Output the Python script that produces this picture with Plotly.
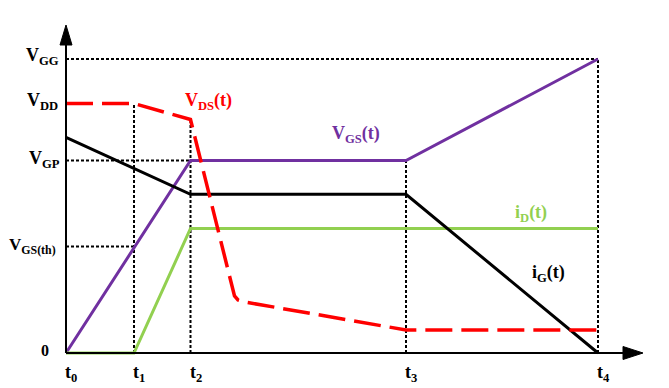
import plotly.graph_objects as go

# ---- data (arbitrary units) ----
t_labels = ["t<sub>0</sub>", "t<sub>1</sub>", "t<sub>2</sub>", "t<sub>3</sub>", "t<sub>4</sub>"]
t_pos = [0, 68, 124.5, 340, 532]

level_labels = ["V<sub>GG</sub>", "V<sub>DD</sub>", "V<sub>GP</sub>", "V<sub>GS(th)</sub>", "0"]
level_vals = [294, 249.5, 192.5, 106.5, 0]

VGG, VDD, VGP, VGS_TH, ZERO = level_vals
t0, t1, t2, t3, t4 = t_pos

vgs_x = [t0, t2, t3, t4]
vgs_y = [0, VGP, VGP, VGG]

id_x = [t0, t1, t2, t4]
id_y = [0, 0, 124.5, 124.5]

ig_x = [t0, t2, t3, t4]
ig_y = [215.7, 158.7, 158.7, 0]

vds_x = [t0, t1, t2, 168.5, 172, 177, t3, t4]
vds_y = [VDD, VDD, 233.5, 57, 53, 51.3, 23, 23]
VDS_AT_T2 = vds_y[2]

RED = "#FF0000"
PURPLE = "#7030A0"
GREEN = "#92D050"
BLACK = "#000000"
FONT = "Liberation Serif"

X_RANGE = [-10, 585]
Y_RANGE = [-10, 333]


def px(x):
    """data x -> paper fraction (allows labels outside the axis range)"""
    return (x - X_RANGE[0]) / (X_RANGE[1] - X_RANGE[0])


def py(y):
    return (y - Y_RANGE[0]) / (Y_RANGE[1] - Y_RANGE[0])


fig = go.Figure()

fig.add_trace(go.Scatter(x=vgs_x, y=vgs_y, mode="lines",
                         line=dict(color=PURPLE, width=3), hoverinfo="skip"))
fig.add_trace(go.Scatter(x=id_x, y=id_y, mode="lines",
                         line=dict(color=GREEN, width=3), hoverinfo="skip"))
fig.add_trace(go.Scatter(x=ig_x, y=ig_y, mode="lines",
                         line=dict(color=BLACK, width=3), hoverinfo="skip"))
fig.add_trace(go.Scatter(x=vds_x, y=vds_y, mode="lines",
                         line=dict(color=RED, width=3.5, dash="27px,9px"),
                         hoverinfo="skip"))

shapes = []
dot = dict(color=BLACK, width=2, dash="3px,2px")
# horizontal guides
shapes.append(dict(type="line", xref="x", yref="y", x0=0, x1=t4, y0=VGG, y1=VGG, line=dot, layer="below"))
shapes.append(dict(type="line", xref="x", yref="y", x0=0, x1=t2, y0=VGP, y1=VGP, line=dot, layer="below"))
shapes.append(dict(type="line", xref="x", yref="y", x0=0, x1=t1, y0=VGS_TH, y1=VGS_TH, line=dot, layer="below"))
# vertical guides
shapes.append(dict(type="line", xref="x", yref="y", x0=t1, x1=t1, y0=0, y1=VDD, line=dot, layer="below"))
shapes.append(dict(type="line", xref="x", yref="y", x0=t2, x1=t2, y0=0, y1=VDS_AT_T2, line=dot, layer="below"))
shapes.append(dict(type="line", xref="x", yref="y", x0=t3, x1=t3, y0=0, y1=VGP, line=dot, layer="below"))
shapes.append(dict(type="line", xref="x", yref="y", x0=t4, x1=t4, y0=0, y1=VGG, line=dot, layer="below"))
# axes
shapes.append(dict(type="line", xref="x", yref="y", x0=0, x1=560, y0=0, y1=0, line=dict(color=BLACK, width=2)))
shapes.append(dict(type="line", xref="x", yref="y", x0=0, x1=0, y0=0, y1=310, line=dict(color=BLACK, width=2)))
# arrow heads
shapes.append(dict(type="path", xref="x", yref="y", path="M 557,-6.5 L 577,0 L 557,6.5 Z",
                   fillcolor=BLACK, line=dict(color=BLACK, width=1)))
shapes.append(dict(type="path", xref="x", yref="y", path="M -6,308 L 0,328 L 6,308 Z",
                   fillcolor=BLACK, line=dict(color=BLACK, width=1)))

ann = []
# level labels on the y axis
lvl_xoff = [-5, -6, -4, -8]
lvl_yoff = [3, 2, 1, 1]
lvl_size = [18, 18, 18, 17]
for lab, v, xo, yo, fs in zip(level_labels[:4], level_vals[:4], lvl_xoff, lvl_yoff, lvl_size):
    ann.append(dict(x=px(xo), y=py(v + yo), xref="paper", yref="paper", text=lab, showarrow=False,
                    xanchor="right", yanchor="middle",
                    font=dict(family=FONT, size=fs, color=BLACK, weight="bold")))
ann.append(dict(x=px(-21), y=py(ZERO + 3), xref="paper", yref="paper", text=level_labels[4],
                showarrow=False, xanchor="center", yanchor="middle",
                font=dict(family=FONT, size=16, color=BLACK, weight="bold")))
# time labels
for lab, tp in zip(t_labels, t_pos):
    ann.append(dict(x=px(tp + 5), y=py(-20), xref="paper", yref="paper", text=lab, showarrow=False,
                    xanchor="center", yanchor="middle",
                    font=dict(family=FONT, size=18, color=BLACK, weight="bold")))
# curve labels
curve_labels = [
    ("V<sub>DS</sub>(t)", 117, 251, RED),
    ("V<sub>GS</sub>(t)", 264, 219, PURPLE),
    ("i<sub>D</sub>(t)", 447, 140, GREEN),
    ("i<sub>G</sub>(t)", 464, 80, BLACK),
]
for lab, xx, yy, col in curve_labels:
    ann.append(dict(x=px(xx), y=py(yy), xref="paper", yref="paper", text=lab, showarrow=False,
                    xanchor="left", yanchor="middle",
                    font=dict(family=FONT, size=18, color=col, weight="bold")))

# the page body adds an 8px margin; compensate so the plot sits where the reference is
fig.update_layout(
    width=661, height=380, autosize=False,
    margin=dict(l=48, r=18, t=12, b=25),
    paper_bgcolor="white", plot_bgcolor="white",
    showlegend=False,
    xaxis=dict(range=X_RANGE, visible=False, fixedrange=True),
    yaxis=dict(range=Y_RANGE, visible=False, fixedrange=True),
    shapes=shapes, annotations=ann,
)

fig.write_html("out.html")
